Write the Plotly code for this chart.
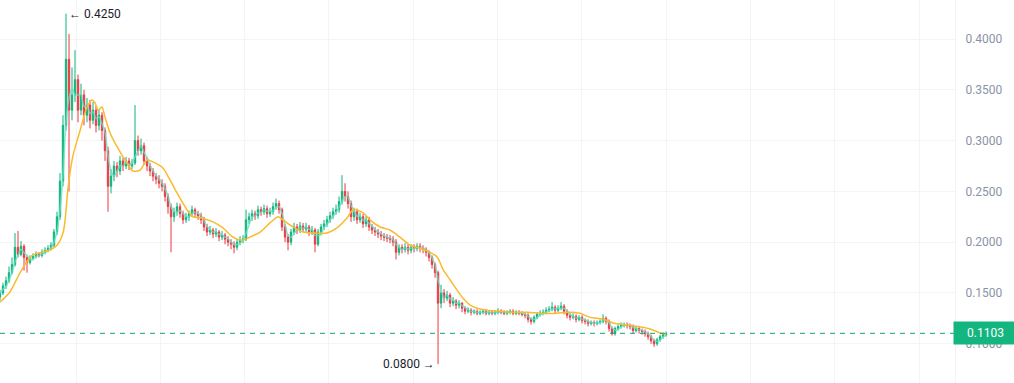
import plotly.graph_objects as go
import pandas as pd

# ---- data (prices in thousandths of a unit) ----
first_open = 146
close_k = [
    150,157,162,170,178,195,188,196,185,180,
    184,186,188,187,190,192,194,197,210,225,
    260,315,380,330,345,360,330,345,325,335,
    320,330,315,325,310,290,255,265,275,270,
    280,275,280,275,278,300,290,295,280,275,
    270,265,262,258,255,245,235,225,230,235,
    228,222,225,228,232,228,226,222,215,210,
    212,208,210,205,207,203,200,198,195,200,
    202,203,222,225,228,226,232,230,233,228,
    230,235,238,232,215,205,200,210,215,212,
    216,213,215,210,212,198,210,215,218,222,
    226,230,232,240,250,245,238,225,230,222,
    225,218,222,215,212,210,208,206,205,204,
    203,200,190,195,193,195,192,195,194,196,
    194,193,190,185,178,170,140,150,145,148,
    140,142,138,140,135,132,133,131,132,130,
    131,132,130,131,130,131,132,131,130,131,
    132,130,131,130,129,128,124,122,126,129,
    130,131,133,134,136,133,135,137,132,128,
    126,127,124,126,123,122,120,121,120,121,
    122,125,122,115,110,115,117,118,119,118,
    117,113,115,113,112,110,107,103,100,104,
    107,109,110.3,
]
high_k = [
    153,160,166,176,185,209,211,201,198,187,
    187,189,191,190,193,195,197,200,213,230,
    268,325,425,405,372,389,365,356,350,342,
    340,338,334,331,328,313,294,272,280,279,
    285,283,284,283,282,335,305,302,298,284,
    278,273,268,266,262,258,248,238,234,239,
    238,231,229,231,236,234,231,229,225,218,
    216,214,214,212,211,209,206,203,201,203,
    206,207,232,229,232,231,236,235,237,236,
    234,239,243,241,234,218,208,213,219,218,
    220,219,219,217,216,214,213,218,222,226,
    230,234,237,245,266,258,250,241,234,233,
    229,228,226,225,218,215,213,211,209,208,
    207,206,203,198,198,199,198,198,198,199,
    199,197,195,192,187,180,172,158,154,152,
    150,146,144,143,141,137,136,135,134,134,
    133,134,134,133,133,133,135,134,133,133,
    134,134,133,133,132,131,130,126,128,131,
    133,134,136,137,141,138,138,141,139,134,
    130,130,129,128,128,125,124,123,123,123,
    124,129,127,124,117,117,119,121,121,121,
    120,119,117,117,115,114,112,109,105,106,
    109,111,112,
]
low_k = [
    143,148,154,160,168,176,185,186,172,170,
    178,182,184,185,185,188,190,192,195,207,
    222,255,310,250,320,338,318,325,315,318,
    312,316,308,310,300,280,230,248,260,264,
    266,270,272,271,272,276,285,286,276,270,
    265,260,257,253,250,240,228,190,220,226,
    224,218,219,221,225,224,222,218,211,206,
    207,204,205,201,202,198,196,193,189,192,
    197,199,201,218,221,222,223,226,227,224,
    225,227,232,228,211,200,192,197,207,208,
    209,210,210,206,207,190,196,207,212,215,
    219,223,227,229,237,240,233,220,221,218,
    219,214,215,211,208,206,204,202,201,200,
    199,196,183,187,189,190,188,189,190,191,
    190,189,186,181,174,165,80,135,140,142,
    136,137,134,135,131,129,130,128,129,128,
    128,129,128,128,128,128,129,129,128,128,
    129,128,128,128,127,125,121,119,120,124,
    127,128,129,131,132,130,131,133,129,125,
    123,124,121,122,120,119,117,118,117,118,
    119,120,119,112,108,108,113,115,116,115,
    114,110,111,110,109,107,104,100,97,98,
    102,105,107,
]
# slow moving average as drawn on the chart (candle position, value in thousandths)
slow_ma_pos = [
    0,3.3,6.7,9,11,14.3,16.7,19,21,21.7,
    22.7,24.3,26.7,29,30.7,31.7,32.7,34,35,36.7,
    39,42.3,44.3,46.7,49,51,54.3,56.7,59,62.3,
    64.3,66.7,71,74.3,77.7,80.7,83.3,86.7,90,92.7,
    94.3,97.7,101,104.3,109,112.3,115.7,117.7,121,123.3,
    126.7,130,133.3,136.7,140,143.3,145.7,147.7,150,152.3,
    154.3,156.7,159,162.3,166.7,171,175.7,180,185.7,189,
    193.3,196.7,201,204.3,209,213.3,216.7,220,222,
]
slow_ma_k = [
    141,151,170,181,187.5,190.5,192.3,197,209,222,
    254,285,310,333,340,337,330,333,323,307.5,
    294,278,270,271,281,279,273,261,248.5,232,
    225,224,220,214,205,202,205,210,219,225,
    222,215,210,209,209,214,224,232,229,222,
    215,212,205,197,194,190,185.5,173,163,153,
    145,138,135,133,132,131,131,130,130,131,
    130,126,124.5,120.5,118.5,116.6,114.6,110.7,109.7,
]
last_price = 0.1103
high_mark = 0.4250
low_mark = 0.0800
y_ticks = [0.10, 0.15, 0.20, 0.25, 0.30, 0.35, 0.40]

# ---- build ----
df = pd.DataFrame({"close": close_k, "high": high_k, "low": low_k}) / 1000.0
df["open"] = df["close"].shift(1).fillna(first_open / 1000.0)
df["idx"] = range(len(df))
fast_ma = df["close"].rolling(3, min_periods=1).mean()

GREEN = "#0fb37c"
RED = "#ea3943"

fig = go.Figure()
fig.add_trace(go.Candlestick(
    x=df["idx"], open=df["open"], high=df["high"], low=df["low"], close=df["close"],
    increasing=dict(line=dict(color=GREEN, width=1), fillcolor=GREEN),
    decreasing=dict(line=dict(color=RED, width=1), fillcolor=RED),
    whiskerwidth=0, showlegend=False, hoverinfo="skip",
))
fig.add_trace(go.Scatter(
    x=df["idx"], y=fast_ma, mode="lines",
    line=dict(color="rgba(100,224,196,0.75)", width=1.6, shape="spline", smoothing=0.6),
    showlegend=False, hoverinfo="skip",
))
fig.add_trace(go.Scatter(
    x=slow_ma_pos, y=[v / 1000.0 for v in slow_ma_k], mode="lines",
    line=dict(color="#f9bb2d", width=1.5, shape="spline", smoothing=0.7),
    showlegend=False, hoverinfo="skip",
))

fig.add_hline(y=last_price, line=dict(color="#0fa572", width=1, dash="5px,5px"))

fig.add_annotation(x=1, xref="paper", y=last_price, yref="y", xanchor="left", yanchor="middle",
                   xshift=-2, text=f"{last_price:.4f}", showarrow=False,
                   bgcolor="#14b67f", width=61, height=20, align="center",
                   font=dict(color="white", size=12, family="Roboto"))
i_hi = int(df["high"].idxmax())
i_lo = int(df["low"].idxmin())
fig.add_annotation(x=i_hi, y=high_mark, xanchor="left", yanchor="middle", xshift=1,
                   text=f"\u2190 {high_mark:.4f}", showarrow=False,
                   font=dict(color="#1b1d2b", size=12, family="Roboto"))
fig.add_annotation(x=i_lo, y=low_mark, xanchor="right", yanchor="middle", xshift=-1,
                   text=f"{low_mark:.4f} \u2192", showarrow=False,
                   font=dict(color="#1b1d2b", size=12, family="Roboto"))

fig.update_layout(
    width=1014, height=383,
    margin=dict(l=0, r=59, t=0, b=0),
    paper_bgcolor="white", plot_bgcolor="white",
    boxgap=0.35,
    xaxis=dict(range=[0, 318.3], showticklabels=False, rangeslider=dict(visible=False),
               showgrid=True, gridcolor="#f3f4f6", gridwidth=1, tick0=25.33, dtick=28.1,
               zeroline=False, showline=False, fixedrange=True),
    yaxis=dict(side="right", range=[0.0614, 0.4384], tickvals=y_ticks, tickformat=".4f",
               showgrid=True, gridcolor="#f3f4f6", gridwidth=1, zeroline=False,
               ticks="", ticklabelstandoff=7,
               tickfont=dict(color="#8a93a6", size=12, family="Roboto"),
               showline=True, linecolor="#f3f4f6", linewidth=1),
    font=dict(family="Roboto"),
)

fig.write_html("out.html", config={"displayModeBar": False},
               post_script="document.body.style.margin='0';document.body.style.overflow='hidden';")
